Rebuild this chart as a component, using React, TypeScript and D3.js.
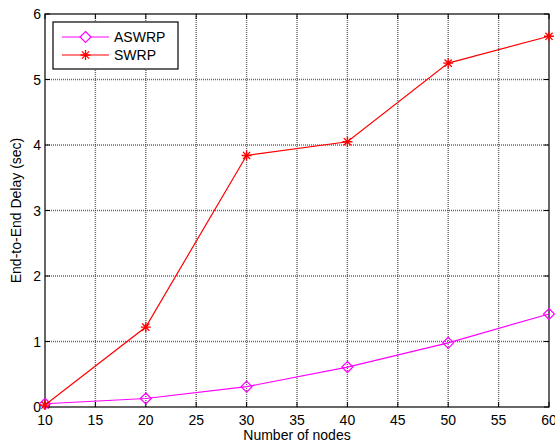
import * as d3 from "d3";
import React from "react";

const nodes = [10, 20, 30, 40, 50, 60];
const aswrp = [0.05, 0.13, 0.31, 0.61, 0.98, 1.42];
const swrp = [0.03, 1.22, 3.84, 4.05, 5.25, 5.66];
const xTicks = [10, 15, 20, 25, 30, 35, 40, 45, 50, 55, 60];
const yTicks = [0, 1, 2, 3, 4, 5, 6];

const W = 555;
const H = 448;
const margin = { top: 14, right: 6, bottom: 41, left: 45 };
const font = "'Liberation Sans', Arial, sans-serif";

const starPath = (cx: number, cy: number, r: number) => {
  let d = `M${cx - r},${cy}L${cx + r},${cy}M${cx},${cy - r}L${cx},${cy + r}`;
  const k = r * 0.72;
  d += `M${cx - k},${cy - k}L${cx + k},${cy + k}M${cx - k},${cy + k}L${cx + k},${cy - k}`;
  return d;
};
const diamondPath = (cx: number, cy: number, r: number) =>
  `M${cx},${cy - r}L${cx + r},${cy}L${cx},${cy + r}L${cx - r},${cy}Z`;

export default function App() {
  const innerW = W - margin.left - margin.right;
  const innerH = H - margin.top - margin.bottom;
  const x = d3.scaleLinear().domain([10, 60]).range([0, innerW]);
  const y = d3.scaleLinear().domain([0, 6]).range([innerH, 0]);
  const line = d3
    .line<number>()
    .x((_, i) => x(nodes[i]))
    .y((d) => y(d));

  return (
    <svg width={W} height={H} style={{ position: "absolute", left: 0, top: 0, background: "#fff" }}>
      <rect width={W} height={H} fill="#fff" />
      <g transform={`translate(${margin.left},${margin.top})`} fontFamily={font} fontSize={14}>
        {/* grid, dotted like matlab */}
        {xTicks.slice(1, -1).map((t) => (
          <line key={"gx" + t} x1={x(t)} x2={x(t)} y1={0} y2={innerH} stroke="#333" strokeWidth={1.4} strokeDasharray="1,1" strokeOpacity={0.75} />
        ))}
        {yTicks.slice(1, -1).map((t) => (
          <line key={"gy" + t} x1={0} x2={innerW} y1={y(t)} y2={y(t)} stroke="#333" strokeWidth={1.4} strokeDasharray="1,1" strokeOpacity={0.75} />
        ))}
        {/* ticks on all sides */}
        {xTicks.map((t) => (
          <g key={"tx" + t}>
            <line x1={x(t)} x2={x(t)} y1={innerH} y2={innerH - 5} stroke="#000" />
            <line x1={x(t)} x2={x(t)} y1={0} y2={5} stroke="#000" />
            <text x={x(t)} y={innerH + 18} textAnchor="middle" fill="#000">
              {t}
            </text>
          </g>
        ))}
        {yTicks.map((t) => (
          <g key={"ty" + t}>
            <line x1={0} x2={5} y1={y(t)} y2={y(t)} stroke="#000" />
            <line x1={innerW} x2={innerW - 5} y1={y(t)} y2={y(t)} stroke="#000" />
            <text x={-4} y={y(t) + 5} textAnchor="end" fill="#000">
              {t}
            </text>
          </g>
        ))}
        <rect x={0} y={0} width={innerW} height={innerH} fill="none" stroke="#000" strokeWidth={1.2} />

        {/* series */}
        <path d={line(aswrp) ?? ""} fill="none" stroke="#ff00ff" strokeWidth={1.2} />
        {aswrp.map((v, i) => (
          <path key={"a" + i} d={diamondPath(x(nodes[i]), y(v), 5.5)} fill="none" stroke="#ff00ff" strokeWidth={1.2} />
        ))}
        <path d={line(swrp) ?? ""} fill="none" stroke="#ff0000" strokeWidth={1.2} />
        {swrp.map((v, i) => (
          <path key={"s" + i} d={starPath(x(nodes[i]), y(v), 5)} fill="none" stroke="#ff0000" strokeWidth={1.3} />
        ))}

        {/* axis titles */}
        <text x={innerW / 2} y={innerH + 33} textAnchor="middle" fill="#000">
          Number of nodes
        </text>
        <text transform={`translate(${-24},${innerH / 2}) rotate(-90)`} textAnchor="middle" fill="#000">
          End-to-End Delay (sec)
        </text>

        {/* legend */}
        <g transform="translate(8,8)">
          <rect x={0} y={0} width={125} height={47} fill="#fff" stroke="#000" strokeWidth={1.2} />
          <line x1={9} x2={56} y1={15} y2={15} stroke="#ff00ff" strokeWidth={1.2} />
          <path d={diamondPath(32.5, 15, 5.5)} fill="#fff" stroke="#ff00ff" strokeWidth={1.2} />
          <text x={61} y={20} fill="#000">ASWRP</text>
          <line x1={9} x2={56} y1={33} y2={33} stroke="#ff0000" strokeWidth={1.2} />
          <path d={starPath(32.5, 33, 5)} fill="none" stroke="#ff0000" strokeWidth={1.3} />
          <text x={61} y={38} fill="#000">SWRP</text>
        </g>
      </g>
    </svg>
  );
}
